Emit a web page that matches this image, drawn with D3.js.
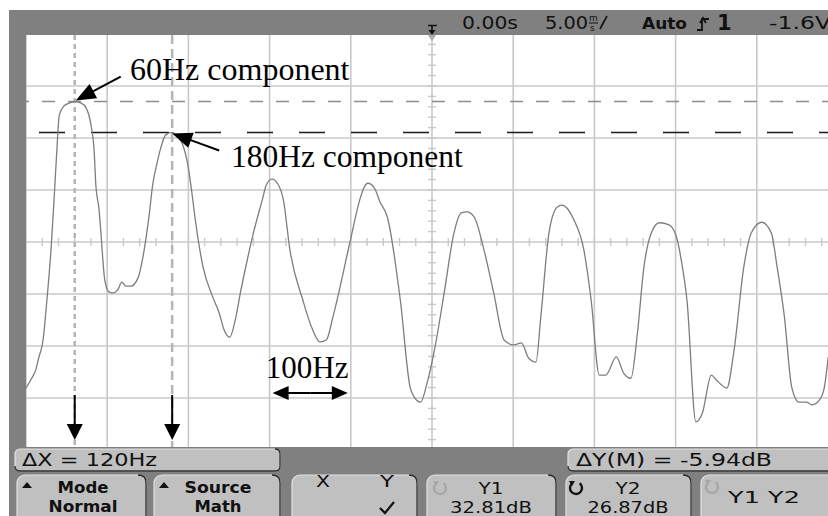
<!DOCTYPE html>
<html>
<head>
<meta charset="utf-8">
<script src="https://cdn.jsdelivr.net/npm/d3@7"></script>
<style>
  body { margin: 0; background: #fff; }
  svg { display: block; }
</style>
</head>
<body>
<svg id="scope" width="828" height="516"></svg>
<script>
// FFT trace (Hz, dB)
var freqHz = [0, 6, 12, 16, 21, 25, 31, 35, 38, 41, 47, 53, 60, 68, 74, 80, 84, 86, 90, 92, 97, 102, 107, 113, 118, 123, 129, 138, 144, 152,
    156, 160, 166, 172, 180, 187, 193, 200, 203, 209, 218, 230, 238, 244, 251, 258, 264, 272, 280, 291, 296, 303, 310, 317, 325, 341,
    352, 362, 370, 378, 399, 411, 416, 421, 429, 436, 445, 461, 473, 478, 486, 494, 503, 515, 527, 536, 543, 552, 564, 576, 589, 601,
    610, 619, 628, 634, 644, 654, 660, 675, 687, 696, 706, 714, 727, 736, 745, 753, 761, 770, 780, 792, 801, 807, 814, 825, 833, 844,
    850, 860, 863, 872, 884, 893, 906, 918, 925, 934, 943, 952, 961, 968, 977, 983, 988];
var levelDb = [-22.3, -20.7, -18.8, -16.3, -13.1, -6.7, 4.8, 15.2, 23.5, 30.2, 32.0, 32.5, 32.8, 32.5, 31.6, 28.3, 23.1, 16.8, 12.0, 8.1,
    -1.5, -3.8, -4.0, -3.4, -1.9, -2.7, -2.7, -1.1, 2.9, 11.4, 16.8, 20.0, 23.9, 26.4, 26.9, 26.0, 24.5, 20.0, 16.8, 9.5, 1.0, -4.8,
    -7.9, -11.1, -12.5, -9.0, -4.0, 2.0, 7.5, 13.9, 16.8, 17.9, 17.0, 13.9, 4.3, -5.4, -10.7, -13.4, -13.0, -8.6, 5.8, 13.9, 16.2,
    17.1, 16.2, 13.5, 10.6, -5.4, -22.1, -24.0, -25.0, -21.3, -15.0, -4.0, 7.5, 11.4, 11.6, 10.6, 4.3, -4.0, -13.1, -14.0, -13.6,
    -16.5, -17.3, -8.6, 7.5, 12.5, 12.9, 10.0, 4.3, -5.4, -19.8, -19.8, -16.3, -19.4, -20.4, -11.7, 1.0, 7.5, 9.5, 9.1, 6.8, 2.3,
    -5.4, -28.8, -27.1, -19.8, -20.7, -22.1, -22.3, -15.0, 1.0, 7.5, 9.6, 7.5, 1.0, -8.6, -22.1, -25.0, -25.0, -25.5, -24.6, -22.3, -16.3];

var spanHz = [0, 1000],   // 100Hz/div
    refDb = 45.8,         // top of screen
    dbPerDiv = 10,
    ydivs = 8;

var cursorHz = [60, 180],
    cursorDb = [32.81, 26.87];

var headerText = ["0.00s", "5.00", "Auto", "1", "-1.6V"];
var deltaText = ["\u0394X = 120Hz", "\u0394Y(M) = -5.94dB"];
var buttonLines = [
    ["Mode", "Normal"],
    ["Source", "Math"],
    ["X", "Y"],
    ["Y1", "32.81dB"],
    ["Y2", "26.87dB"],
    ["Y1 Y2"]
];
var notes = ["60Hz component", "180Hz component", "100Hz"];

var svg = d3.select("#scope");
var W = 828, H = 516;
var scr = {left: 26, top: 35, right: 838, bottom: 447};

var x = d3.scaleLinear().domain(spanHz).range([26, 838]),
    y = d3.scaleLinear().domain([refDb - ydivs * dbPerDiv, refDb]).range([450, 34]);

// frame
svg.append("rect").attr("width", W).attr("height", H).attr("fill", "#fff");
svg.append("rect").attr("x", 9).attr("y", 10).attr("width", W - 9).attr("height", H - 10).attr("fill", "#808080");
svg.append("rect").attr("x", scr.left).attr("y", scr.top).attr("width", W - scr.left).attr("height", scr.bottom - scr.top).attr("fill", "#fff");

svg.append("clipPath").attr("id", "clip")
    .append("rect").attr("x", scr.left).attr("y", scr.top).attr("width", W - scr.left).attr("height", scr.bottom - scr.top);

var screen = svg.append("g").attr("clip-path", "url(#clip)");

// graticule
var gridColor = "#c9c9c9";
screen.selectAll(".gx").data(d3.range(spanHz[0], spanHz[1] + 1, 100)).join("line")
    .attr("x1", d => x(d)).attr("x2", d => x(d))
    .attr("y1", scr.top).attr("y2", scr.bottom)
    .attr("stroke", gridColor).attr("stroke-width", 1.6);
screen.selectAll(".gy").data(d3.range(0, ydivs + 1).map(i => refDb - i * dbPerDiv)).join("line")
    .attr("y1", d => y(d)).attr("y2", d => y(d))
    .attr("x1", scr.left).attr("x2", W)
    .attr("stroke", gridColor).attr("stroke-width", 1.6);

var midHz = (spanHz[0] + spanHz[1]) / 2,
    midDb = refDb - ydivs / 2 * dbPerDiv;
screen.selectAll(".tx").data(d3.range(spanHz[0], spanHz[1] + 1, 20)).join("line")
    .attr("x1", d => x(d)).attr("x2", d => x(d))
    .attr("y1", y(midDb) - 4).attr("y2", y(midDb) + 4)
    .attr("stroke", gridColor).attr("stroke-width", 1.4);
screen.selectAll(".ty").data(d3.range(0, ydivs * 5 + 1).map(i => refDb - i * dbPerDiv / 5)).join("line")
    .attr("y1", d => y(d)).attr("y2", d => y(d))
    .attr("x1", x(midHz) - 4).attr("x2", x(midHz) + 4)
    .attr("stroke", gridColor).attr("stroke-width", 1.4);

// cursors
screen.append("line")
    .attr("x1", x(cursorHz[0])).attr("x2", x(cursorHz[0])).attr("y1", scr.top).attr("y2", scr.bottom)
    .attr("stroke", "#b5b5b5").attr("stroke-width", 2.5).attr("stroke-dasharray", "5,4");
screen.append("line")
    .attr("x1", x(cursorHz[1])).attr("x2", x(cursorHz[1])).attr("y1", scr.top).attr("y2", scr.bottom)
    .attr("stroke", "#b5b5b5").attr("stroke-width", 2.5).attr("stroke-dasharray", "9,5");
screen.append("line")
    .attr("x1", scr.left).attr("x2", W).attr("y1", y(cursorDb[0])).attr("y2", y(cursorDb[0]))
    .attr("stroke", "#8c8c8c").attr("stroke-width", 1.4).attr("stroke-dasharray", "13,13").attr("stroke-dashoffset", 10);
screen.append("line")
    .attr("x1", scr.left).attr("x2", W).attr("y1", y(cursorDb[1])).attr("y2", y(cursorDb[1]))
    .attr("stroke", "#1a1a1a").attr("stroke-width", 1.5).attr("stroke-dasharray", "26,26").attr("stroke-dashoffset", 39);

// trace
var line = d3.line().x((d, i) => x(freqHz[i])).y(d => y(d)).curve(d3.curveMonotoneX);
screen.append("path").datum(levelDb)
    .attr("d", line)
    .attr("fill", "none").attr("stroke", "#7d7d7d").attr("stroke-width", 1.3);

// annotations
function arrow(g, x1, y1, x2, y2, hl, hw) {
    var a = Math.atan2(y2 - y1, x2 - x1), c = Math.cos(a), s = Math.sin(a);
    var bx = x2 - hl * c, by = y2 - hl * s;
    g.append("line").attr("x1", x1).attr("y1", y1).attr("x2", bx + c).attr("y2", by + s)
        .attr("stroke", "#000").attr("stroke-width", 2);
    g.append("path")
        .attr("d", "M" + x2 + "," + y2 + "L" + (bx - hw / 2 * s) + "," + (by + hw / 2 * c) +
            "L" + (bx + hw / 2 * s) + "," + (by - hw / 2 * c) + "Z")
        .attr("fill", "#000");
}

var ann = svg.append("g");
var p1 = [x(cursorHz[0]), y(cursorDb[0])],
    p2 = [x(cursorHz[1]) - 1, y(cursorDb[1])];
arrow(ann, p1[0] + 46, p1[1] - 25, p1[0] + 1, p1[1] - 1, 20, 16);
arrow(ann, p2[0] + 48, p2[1] + 18, p2[0] + 1, p2[1] + 1, 20, 16);
ann.append("text").attr("x", 130).attr("y", 80).attr("font-size", 32).text(notes[0]);
ann.append("text").attr("x", 231).attr("y", 167).attr("font-size", 31.5).text(notes[1]);
ann.selectAll("text")
    .attr("font-family", "'Liberation Serif', 'Times New Roman', serif")
    .attr("fill", "#000");

cursorHz.forEach(function(f) {
    arrow(ann, x(f), 395, x(f), 440, 16, 16);
});
var a1 = x(300) + 3, a2 = x(400) - 3, ay = 393;
arrow(ann, (a1 + a2) / 2, ay, a2, ay, 16, 14);
arrow(ann, (a1 + a2) / 2, ay, a1, ay, 16, 14);
ann.append("text").attr("x", x(350) - 3).attr("y", 378).attr("text-anchor", "middle")
    .attr("font-family", "'Liberation Serif', 'Times New Roman', serif")
    .attr("font-size", 31).attr("fill", "#000").text(notes[2]);

// header
var hdr = svg.append("g").attr("font-family", "'DejaVu Sans', sans-serif").attr("fill", "#111");
var tx = x(midHz);
hdr.append("path").attr("d", "M" + (tx - 4) + ",25.5H" + (tx + 5) + "M" + tx + ",25.5V31")
    .attr("stroke", "#111").attr("stroke-width", 1.6).attr("fill", "none");
hdr.append("path").attr("d", "M" + (tx - 3.5) + ",30L" + (tx + 3.5) + ",30L" + tx + ",35Z").attr("fill", "#111");
svg.append("path").attr("d", "M" + (tx - 4) + ",35L" + (tx + 4) + ",35L" + tx + ",41Z").attr("fill", "#aaa");

hdr.append("text").attr("x", 462).attr("y", 29).attr("font-size", 17)
    .attr("textLength", 56).attr("lengthAdjust", "spacingAndGlyphs").text(headerText[0]);
hdr.append("text").attr("x", 545).attr("y", 29).attr("font-size", 17)
    .attr("textLength", 43).attr("lengthAdjust", "spacingAndGlyphs").text(headerText[1]);
hdr.append("text").attr("x", 589).attr("y", 21).attr("font-size", 9).text("m");
hdr.append("line").attr("x1", 589).attr("x2", 598).attr("y1", 23).attr("y2", 23).attr("stroke", "#111").attr("stroke-width", 1);
hdr.append("text").attr("x", 590).attr("y", 30.5).attr("font-size", 9).text("s");
hdr.append("path").attr("d", "M600,29L607,16").attr("stroke", "#111").attr("stroke-width", 1.6);
hdr.append("text").attr("x", 642).attr("y", 29).attr("font-size", 16).attr("font-weight", "bold")
    .attr("textLength", 45).attr("lengthAdjust", "spacingAndGlyphs").text(headerText[2]);
hdr.append("path").attr("d", "M697,30H702V19H709M700,23L703,18L706,23")
    .attr("stroke", "#111").attr("stroke-width", 1.8).attr("fill", "none");
hdr.append("text").attr("x", 717).attr("y", 30).attr("font-size", 21).attr("font-weight", "bold").text(headerText[3]);
hdr.append("text").attr("x", 769).attr("y", 29).attr("font-size", 17)
    .attr("textLength", 62).attr("lengthAdjust", "spacingAndGlyphs").text(headerText[4]);

// bottom softkeys
var panel = svg.append("g").attr("font-family", "'DejaVu Sans', sans-serif").attr("fill", "#111");

function box(g, bx, by, bw, bh, r) {
    g.append("rect").attr("x", bx).attr("y", by).attr("width", bw).attr("height", bh).attr("rx", r)
        .attr("fill", "#c0c0c0").attr("stroke", "#e2e2e2").attr("stroke-width", 1.2);
    g.append("path")
        .attr("d", "M" + (bx + bw - r) + "," + by + "Q" + (bx + bw) + "," + by + " " + (bx + bw) + "," + (by + r) +
            "V" + (by + bh - r) + "Q" + (bx + bw) + "," + (by + bh) + " " + (bx + bw - r) + "," + (by + bh) + "H" + (bx + r) +
            "Q" + bx + "," + (by + bh) + " " + bx + "," + (by + bh - r))
        .attr("fill", "none").attr("stroke", "#2b2b2b").attr("stroke-width", 1.3);
}

box(panel, 15, 449, 265, 22, 5);
box(panel, 568, 449, 280, 22, 5);
panel.append("text").attr("x", 22).attr("y", 466).attr("font-size", 17)
    .attr("textLength", 135).attr("lengthAdjust", "spacingAndGlyphs").text(deltaText[0]);
panel.append("text").attr("x", 576).attr("y", 466).attr("font-size", 17)
    .attr("textLength", 196).attr("lengthAdjust", "spacingAndGlyphs").text(deltaText[1]);

var keys = [
    {x: 17, w: 129, cx: 83},
    {x: 154, w: 126, cx: 218},
    {x: 292, w: 125, cx: 355},
    {x: 427, w: 129, cx: 491},
    {x: 566, w: 125, cx: 628},
    {x: 701, w: 140, cx: 764}
];
keys.forEach(function(k) { box(panel, k.x, 475, k.w, 50, 8); });

function keyText(t, cx, by, w, bold, fs) {
    var el = panel.append("text").attr("x", cx).attr("y", by).attr("text-anchor", "middle")
        .attr("font-size", fs || 16.5).attr("font-weight", bold ? "bold" : "normal").text(t);
    if (w) el.attr("textLength", w).attr("lengthAdjust", "spacingAndGlyphs");
    return el;
}
keyText(buttonLines[0][0], keys[0].cx, 493, 51, true);
keyText(buttonLines[0][1], keys[0].cx, 512, 69, true);
keyText(buttonLines[1][0], keys[1].cx, 493, 67, true);
keyText(buttonLines[1][1], keys[1].cx, 512, 47, true);
keyText(buttonLines[2][0], 323, 487, 14, false);
keyText(buttonLines[2][1], 387, 487, 14, false);
panel.append("path").attr("d", "M380,508L385,513L394,502").attr("stroke", "#111").attr("stroke-width", 2.2).attr("fill", "none");
keyText(buttonLines[3][0], 491, 493.5, 25, false, 15.5);
keyText(buttonLines[3][1], 491, 512.5, 82, false, 15.5);
keyText(buttonLines[4][0], 628, 493.5, 25, false, 15.5);
keyText(buttonLines[4][1], 628, 512.5, 81, false, 15.5);
keyText(buttonLines[5][0], 764, 503, 72, false);

// mode / source up-triangles
[[22, 488], [159, 488]].forEach(function(p) {
    panel.append("path").attr("d", "M" + p[0] + "," + p[1] + "h10l-5,-6z").attr("fill", "#111");
});

// rotary icons
function knob(cx, cy, col) {
    var r = 6;
    panel.append("path")
        .attr("d", "M" + (cx + r * Math.cos(-0.9)) + "," + (cy + r * Math.sin(-0.9)) +
            "A" + r + "," + r + " 0 1 1 " + (cx + r * Math.cos(-2.3)) + "," + (cy + r * Math.sin(-2.3)))
        .attr("fill", "none").attr("stroke", col).attr("stroke-width", 2.4);
    panel.append("path")
        .attr("d", "M" + (cx - 7) + "," + (cy - 7) + "l6,0l-3,5z").attr("fill", col);
}
knob(440, 488, "#a7a7a7");
knob(576, 488, "#111");
knob(712, 487, "#a7a7a7");
</script>
</body>
</html>
